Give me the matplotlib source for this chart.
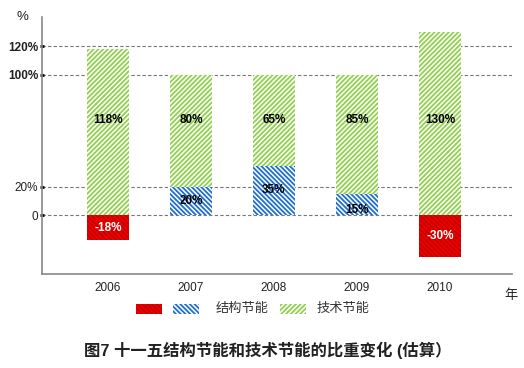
import matplotlib.pyplot as plt
from matplotlib.patches import Rectangle

plt.rcParams['font.family'] = ['Liberation Sans', 'Noto Sans CJK SC', 'DejaVu Sans']
plt.rcParams['hatch.linewidth'] = 1.3

# 数据 (估算, %)
years = ['2006', '2007', '2008', '2009', '2010']
structure = [-18, 20, 35, 15, -30]    # 结构节能
technology = [118, 80, 65, 85, 130]   # 技术节能
yticks = [0, 20, 100, 120]
ytick_labels = ['0', '20%', '100%', '120%']

RED, RED_H = '#ee0000', '#c80000'
BLUE = '#1f6fcc'
GREEN = '#92d050'
HB = '\\\\\\\\\\\\\\'
HG = '///////'

W, H = 524, 368
fig = plt.figure(figsize=(W / 100, H / 100), dpi=100)
ax = fig.add_axes([42 / W, 94 / H, 470 / W, 257 / H])

x = list(range(len(years)))
pos = [max(v, 0) for v in structure]
neg = [min(v, 0) for v in structure]

ax.bar(x, neg, width=0.5, color=RED, edgecolor=RED_H, hatch=HB, linewidth=0, zorder=3)
ax.bar(x, pos, width=0.5, color='white', edgecolor=BLUE, hatch=HB, linewidth=0, zorder=3)
ax.bar(x, technology, bottom=pos, width=0.5, color='white', edgecolor=GREEN,
       hatch=HG, linewidth=0, zorder=3)

# 数值标签
for i in x:
    ax.text(i, 68, f'{technology[i]}%', ha='center', va='center',
            fontsize=8.5, fontweight='bold', zorder=5)
    v = structure[i]
    if v < 0:
        ax.text(i, v / 2, f'{v}%', ha='center', va='center', color='white',
                fontsize=8.5, fontweight='bold', zorder=5)
    else:
        yy = v / 2 if v >= 20 else v / 2 - 4
        ax.text(i, yy, f'{v}%', ha='center', va='center',
                fontsize=8.5, fontweight='bold', zorder=5)

ax.set_xlim(-0.795, 4.868)
ax.set_ylim(-42, 141)
ax.set_xticks(x)
ax.set_xticklabels(years, fontsize=8.5, color='#222222')
ax.set_yticks(yticks)
ax.set_yticklabels(ytick_labels, fontsize=8.5, color='#222222')
for lab in ax.get_yticklabels():
    if lab.get_text() in ('100%', '120%'):
        lab.set_fontweight('bold')
ax.tick_params(axis='x', length=0, pad=6)
ax.tick_params(axis='y', length=2.5, width=2, direction='inout', color='black', pad=1.5)
ax.yaxis.grid(True, linestyle=(0, (3, 2)), color='#777777', linewidth=0.8, zorder=1)
ax.set_axisbelow(True)

for s in ['top', 'right']:
    ax.spines[s].set_visible(False)
for s in ['left', 'bottom']:
    ax.spines[s].set_color('#888888')
    ax.spines[s].set_linewidth(1.2)

fig.text(22 / W, 1 - 17 / H, '%', ha='center', va='center', fontsize=9.5, color='#222222')
fig.text(511 / W, 1 - 296 / H, '年', ha='center', va='center', fontsize=9.5, color='#222222')

# 图例
def legend_box(x0, color, edge, hatch):
    fig.patches.append(Rectangle((x0 / W, 1 - 314 / H), 26 / W, 10 / H, transform=fig.transFigure,
                                 facecolor=color, edgecolor=edge, hatch=hatch, linewidth=0))

legend_box(136, RED, RED_H, HB)
legend_box(173, 'white', BLUE, HB)
legend_box(280, 'white', GREEN, HG)
fig.text(216 / W, 1 - 309 / H, '结构节能', ha='left', va='center', fontsize=9.5, color='#333333')
fig.text(317 / W, 1 - 309 / H, '技术节能', ha='left', va='center', fontsize=9.5, color='#333333')

fig.text(268 / W, 1 - 350 / H, '图7 十一五结构节能和技术节能的比重变化 (估算）',
         ha='center', va='center', fontsize=11.8, fontweight='bold', color='#222222')

fig.savefig('out.png', dpi=100)
